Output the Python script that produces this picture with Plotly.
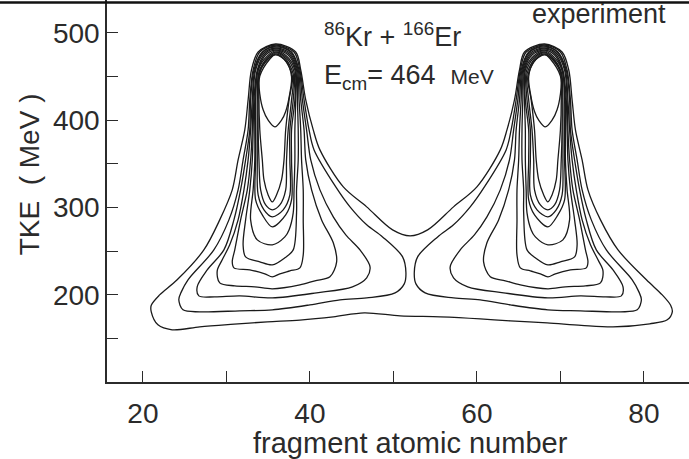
import plotly.graph_objects as go

# ---- contour lines: (fragment Z, TKE in MeV) ----
# outermost level, one loop enclosing both fragment peaks
OUTER = [(35.9,487.4),(33.8,478.2),(33.0,457.6),(32.6,423.3),(32.2,388.9),(31.4,354.5),(30.7,320.2),(29.2,285.8),
         (27.3,251.4),(24.1,217.1),(22.0,199.8),(21.0,188.0),(21.0,180.4),(21.8,165.5),(23.5,159.8),(26.8,163.2),
         (30.5,166.0),(34.9,168.9),(38.8,171.0),(42.8,174.7),(46.5,179.3),(50.8,175.8),(55.6,174.7),(60.4,172.4),
         (64.0,170.0),(68.4,167.8),(72.5,165.0),(76.3,163.2),(80.7,166.7),(82.8,171.3),(83.4,180.4),(83.2,188.0),
         (82.2,199.8),(80.3,217.1),(76.9,251.4),(74.8,285.8),(73.3,320.2),(72.6,354.5),(71.8,388.9),(71.4,423.3),
         (71.0,457.6),(70.2,478.2),(68.1,487.4),(65.7,478.2),(65.1,457.6),(64.5,423.3),(63.6,388.9),(62.8,366.0),
         (60.0,323.6),(57.2,300.7),(54.1,274.3),(52.0,267.5),(49.9,274.3),(46.8,300.7),(44.0,323.6),(41.2,366.0),
         (40.4,388.9),(39.5,423.3),(38.9,457.6),(38.3,478.2)]

# light-fragment peak (Z ~ 36)
LEFT_2 = [(35.9,486.2),(34.0,478.2),(33.2,457.6),(32.8,423.3),(32.6,388.9),(32.0,354.5),(31.4,320.2),(30.3,285.8),
          (28.5,251.4),(25.4,217.1),(24.6,203.3),(24.3,194.2),(24.8,182.7),(26.8,180.4),(31.6,181.6),(35.5,182.7),
          (40.0,188.4),(43.6,194.2),(46.8,196.4),(50.2,202.2),(51.3,212.5),(51.5,225.1),(51.1,243.4),(48.7,266.3),
          (46.8,280.1),(44.8,300.7),(43.1,323.6),(40.5,366.0),(39.9,388.9),(39.3,423.3),(38.8,457.6),(38.1,478.2)]
LEFT_3 = [(35.9,485.1),(34.3,478.2),(33.3,457.6),(32.9,423.3),(32.8,388.9),(32.3,354.5),(31.7,320.2),(30.9,285.8),
          (29.7,251.4),(27.7,228.5),(26.5,209.1),(26.7,198.7),(28.6,197.6),(31.6,198.7),(35.5,196.4),(40.8,202.2),
          (45.1,209.1),(46.8,219.4),(47.2,232.0),(46.0,251.4),(44.3,268.6),(42.8,289.2),(41.2,320.2),(40.1,354.5),
          (39.6,388.9),(39.1,423.3),(38.7,457.6),(37.8,478.2)]
LEFT_4 = [(35.9,484.0),(34.4,478.2),(33.4,457.6),(33.1,423.3),(32.9,388.9),(32.6,354.5),(32.1,320.2),(31.4,285.8),
          (30.4,257.2),(29.5,240.0),(28.9,227.4),(29.2,213.6),(31.0,210.2),(33.4,209.1),(35.5,206.8),(38.8,211.3),
          (40.6,216.0),(42.4,220.5),(43.2,237.7),(42.8,259.5),(41.4,285.8),(40.2,320.2),(39.5,354.5),(39.3,388.9),
          (38.9,423.3),(38.6,457.6),(37.7,478.2)]
LEFT_5 = [(35.9,482.8),(34.5,477.1),(33.5,457.6),(33.2,423.3),(33.1,388.9),(32.9,354.5),(32.5,320.2),(31.7,285.8),
          (31.0,251.4),(30.7,237.7),(30.9,230.8),(32.8,228.5),(34.6,224.0),(35.5,220.5),(36.4,224.0),(37.6,227.4),
          (38.8,230.8),(39.2,245.7),(39.2,285.8),(39.2,320.2),(39.0,354.5),(38.9,388.9),(38.7,423.3),(38.5,457.6),
          (37.6,477.1)]
LEFT_6 = [(35.9,481.7),(34.6,476.0),(33.7,457.6),(33.3,423.3),(33.2,388.9),(33.1,354.5),(32.8,320.2),(32.3,285.8),
          (32.0,257.2),(32.3,243.4),(34.0,237.7),(35.5,234.2),(37.0,242.3),(38.0,251.4),(38.4,293.8),(38.4,320.2),
          (38.6,354.5),(38.6,388.9),(38.5,423.3),(38.4,457.6),(37.5,476.0)]
LEFT_7 = [(35.9,480.5),(34.7,474.8),(33.8,457.6),(33.4,423.3),(33.4,388.9),(33.4,354.5),(33.2,320.2),(32.9,285.8),
          (33.7,262.9),(35.5,257.2),(37.0,266.3),(37.5,274.3),(38.0,293.8),(38.1,320.2),(38.2,354.5),(38.2,388.9),
          (38.3,423.3),(38.3,457.6),(37.4,474.8)]
LEFT_8 = [(35.9,479.4),(34.9,473.7),(33.8,457.6),(33.5,423.3),(33.5,388.9),(33.5,354.5),(33.5,308.7),(34.3,291.5),
          (35.5,277.8),(37.1,291.5),(37.8,308.7),(37.8,354.5),(37.8,388.9),(38.2,423.3),(38.2,457.6),(37.2,473.7)]
LEFT_9 = [(35.9,478.2),(35.0,472.5),(33.9,455.3),(33.7,423.3),(33.7,388.9),(33.7,354.5),(33.8,314.4),(34.5,297.3),
          (35.5,289.2),(36.8,297.3),(37.6,314.4),(37.6,354.5),(37.6,388.9),(38.0,423.3),(38.1,455.3),(37.1,472.5)]
LEFT_10 = [(35.9,477.1),(35.1,471.4),(33.9,453.0),(33.8,423.3),(33.8,388.9),(33.9,354.5),(34.1,320.2),(34.7,302.9),
           (35.5,297.3),(36.4,302.9),(37.1,320.2),(37.2,354.5),(37.4,388.9),(37.8,423.3),(38.0,453.0),(37.0,471.4)]
LEFT_11 = [(35.9,475.9),(35.2,470.2),(34.0,450.7),(33.9,423.3),(34.0,388.9),(34.3,354.5),(34.5,331.6),(35.0,314.4),
           (35.5,306.4),(36.0,314.4),(36.6,331.6),(36.9,354.5),(37.1,388.9),(37.5,423.3),(37.9,450.7),(36.9,470.2)]
LEFT_12 = [(35.9,474.8),(34.6,467.0),(33.9,450.0),(34.0,430.0),(34.4,412.0),(35.0,400.0),(35.8,392.3),(36.6,400.0),
           (37.1,410.0),(37.6,431.0),(37.8,450.0),(37.2,467.0)]

# heavy-fragment peak (Z ~ 68)
RIGHT_2 = [(68.1,486.2),(70.0,478.2),(70.8,457.6),(71.2,423.3),(71.4,388.9),(72.0,354.5),(72.6,320.2),(73.7,285.8),
           (75.5,251.4),(78.6,217.1),(79.4,203.3),(79.7,194.2),(79.2,182.7),(77.2,180.4),(72.4,181.6),(68.5,182.7),
           (64.0,188.4),(60.4,194.2),(57.2,196.4),(53.8,202.2),(52.7,212.5),(52.5,225.1),(52.9,243.4),(55.3,266.3),
           (57.2,280.1),(59.2,300.7),(60.9,323.6),(63.5,366.0),(64.1,388.9),(64.7,423.3),(65.2,457.6),(65.9,478.2)]
RIGHT_3 = [(68.1,485.1),(69.7,478.2),(70.7,457.6),(71.1,423.3),(71.2,388.9),(71.7,354.5),(72.3,320.2),(73.1,285.8),
           (74.3,251.4),(76.3,228.5),(77.5,209.1),(77.3,198.7),(75.4,197.6),(72.4,198.7),(68.5,196.4),(63.2,202.2),
           (58.9,209.1),(57.2,219.4),(56.8,232.0),(58.0,251.4),(59.7,268.6),(61.2,289.2),(62.8,320.2),(63.9,354.5),
           (64.4,388.9),(64.9,423.3),(65.3,457.6),(66.2,478.2)]
RIGHT_4 = [(68.1,484.0),(69.6,478.2),(70.6,457.6),(70.9,423.3),(71.1,388.9),(71.4,354.5),(71.9,320.2),(72.6,285.8),
           (73.6,257.2),(74.5,240.0),(75.1,227.4),(74.8,213.6),(73.0,210.2),(70.6,209.1),(68.5,206.8),(65.2,211.3),
           (63.4,216.0),(61.6,220.5),(60.8,237.7),(61.2,259.5),(62.6,285.8),(63.8,320.2),(64.5,354.5),(64.7,388.9),
           (65.1,423.3),(65.4,457.6),(66.3,478.2)]
RIGHT_5 = [(68.1,482.8),(69.5,477.1),(70.5,457.6),(70.8,423.3),(70.9,388.9),(71.1,354.5),(71.5,320.2),(72.3,285.8),
           (73.0,251.4),(73.3,237.7),(73.1,230.8),(71.2,228.5),(69.4,224.0),(68.5,220.5),(67.6,224.0),(66.4,227.4),
           (65.2,230.8),(64.8,245.7),(64.8,285.8),(64.8,320.2),(65.0,354.5),(65.1,388.9),(65.3,423.3),(65.5,457.6),
           (66.4,477.1)]
RIGHT_6 = [(68.1,481.7),(69.4,476.0),(70.3,457.6),(70.7,423.3),(70.8,388.9),(70.9,354.5),(71.2,320.2),(71.7,285.8),
           (72.0,257.2),(71.7,243.4),(70.0,237.7),(68.5,234.2),(67.0,242.3),(66.0,251.4),(65.6,293.8),(65.6,320.2),
           (65.4,354.5),(65.4,388.9),(65.5,423.3),(65.6,457.6),(66.5,476.0)]
RIGHT_7 = [(68.1,480.5),(69.3,474.8),(70.2,457.6),(70.6,423.3),(70.6,388.9),(70.6,354.5),(70.8,320.2),(71.1,285.8),
           (70.3,262.9),(68.5,257.2),(67.0,266.3),(66.5,274.3),(66.0,293.8),(65.9,320.2),(65.8,354.5),(65.8,388.9),
           (65.7,423.3),(65.7,457.6),(66.6,474.8)]
RIGHT_8 = [(68.1,479.4),(69.1,473.7),(70.2,457.6),(70.5,423.3),(70.5,388.9),(70.5,354.5),(70.5,308.7),(69.7,291.5),
           (68.5,277.8),(66.9,291.5),(66.2,308.7),(66.2,354.5),(66.2,388.9),(65.8,423.3),(65.8,457.6),(66.8,473.7)]
RIGHT_9 = [(68.1,478.2),(69.0,472.5),(70.1,455.3),(70.3,423.3),(70.3,388.9),(70.3,354.5),(70.2,314.4),(69.5,297.3),
           (68.5,289.2),(67.2,297.3),(66.4,314.4),(66.4,354.5),(66.4,388.9),(66.0,423.3),(65.9,455.3),(66.9,472.5)]
RIGHT_10 = [(68.1,477.1),(68.9,471.4),(70.1,453.0),(70.2,423.3),(70.2,388.9),(70.1,354.5),(69.9,320.2),(69.3,302.9),
            (68.5,297.3),(67.6,302.9),(66.9,320.2),(66.8,354.5),(66.6,388.9),(66.2,423.3),(66.0,453.0),(67.0,471.4)]
RIGHT_11 = [(68.1,475.9),(68.8,470.2),(70.0,450.7),(70.1,423.3),(70.0,388.9),(69.7,354.5),(69.5,331.6),(69.0,314.4),
            (68.5,306.4),(68.0,314.4),(67.4,331.6),(67.1,354.5),(66.9,388.9),(66.5,423.3),(66.1,450.7),(67.1,470.2)]
RIGHT_12 = [(68.1,474.8),(69.4,467.0),(70.1,450.0),(70.0,430.0),(69.6,412.0),(69.0,400.0),(68.2,392.3),(67.4,400.0),
            (66.9,410.0),(66.4,431.0),(66.2,450.0),(66.8,467.0)]

X_TICKS = [20, 40, 60, 80]
X_MINOR = [30, 50, 70]
Y_TICKS = [200, 300, 400, 500]
Y_MINOR = [150, 250, 350, 450]

CONTOURS = [OUTER, LEFT_2, LEFT_3, LEFT_4, LEFT_5, LEFT_6, LEFT_7, LEFT_8, LEFT_9, LEFT_10, LEFT_11, LEFT_12,
            RIGHT_2, RIGHT_3, RIGHT_4, RIGHT_5, RIGHT_6, RIGHT_7, RIGHT_8, RIGHT_9, RIGHT_10, RIGHT_11, RIGHT_12]

FONT = "Liberation Sans, Arial, Helvetica, sans-serif"
INK = "#2b2b2b"

fig = go.Figure()
for c in CONTOURS:
    pts = c + [c[0]]  # closed loop
    fig.add_trace(go.Scatter(
        x=[p[0] for p in pts], y=[p[1] for p in pts], mode="lines",
        line=dict(color="#1a1a1a", width=1.3, shape="spline", smoothing=0.9),
        hoverinfo="skip", showlegend=False))

axis_common = dict(showline=True, linecolor=INK, linewidth=1.5, showgrid=False, zeroline=False,
                   ticks="inside", ticklen=11, tickwidth=1.4, tickcolor=INK,
                   tickfont=dict(family=FONT, size=28, color=INK))
fig.update_xaxes(range=[15.7, 85.4], tickvals=X_TICKS, ticklabelstandoff=6,
                 minor=dict(tickvals=X_MINOR, ticks="inside", ticklen=11, tickwidth=1.4, tickcolor=INK),
                 **axis_common)
fig.update_yaxes(range=[100, 537.8], tickvals=Y_TICKS, ticklabelstandoff=0,
                 minor=dict(tickvals=Y_MINOR, ticks="inside", ticklen=11, tickwidth=1.4, tickcolor=INK),
                 **axis_common)

fig.update_layout(
    width=689, height=459, margin=dict(l=107, r=0, t=0, b=77, autoexpand=False),
    paper_bgcolor="white", plot_bgcolor="white", showlegend=False,
    shapes=[dict(type="rect", xref="paper", yref="paper", x0=-0.19, x1=1.0, y0=0.9905, y1=0.9965,
                 line=dict(width=0), fillcolor="#111", layer="above")],
    annotations=[
        dict(text="fragment atomic number", xref="x", yref="paper", x=52.0, y=-0.16,
             showarrow=False, xanchor="center", yanchor="middle",
             font=dict(family=FONT, size=29, color=INK)),
        dict(text="TKE\u00a0\u00a0(\u00a0MeV\u00a0)", xref="paper", yref="y", x=-0.134, y=338,
             textangle=-90, showarrow=False, xanchor="center", yanchor="middle",
             font=dict(family=FONT, size=28, color=INK)),
        dict(text="experiment", xref="x", yref="y", x=66.4, y=522,
             showarrow=False, xanchor="left", yanchor="middle",
             font=dict(family=FONT, size=27, color=INK)),
        dict(text="<sup>86</sup>Kr + <sup>166</sup>Er", xref="x", yref="y", x=41.4, y=498,
             showarrow=False, xanchor="left", yanchor="middle",
             font=dict(family=FONT, size=27, color=INK)),
        dict(text="E<sub>cm</sub>= 464\u00a0\u00a0<span style='font-size:21px'>MeV</span>", xref="x", yref="y",
             x=41.4, y=450, showarrow=False, xanchor="left", yanchor="middle",
             font=dict(family=FONT, size=27, color=INK)),
    ],
)

fig.write_html("out.html", config={"displayModeBar": False},
               post_script="document.body.style.margin='0';document.body.style.padding='0';")
